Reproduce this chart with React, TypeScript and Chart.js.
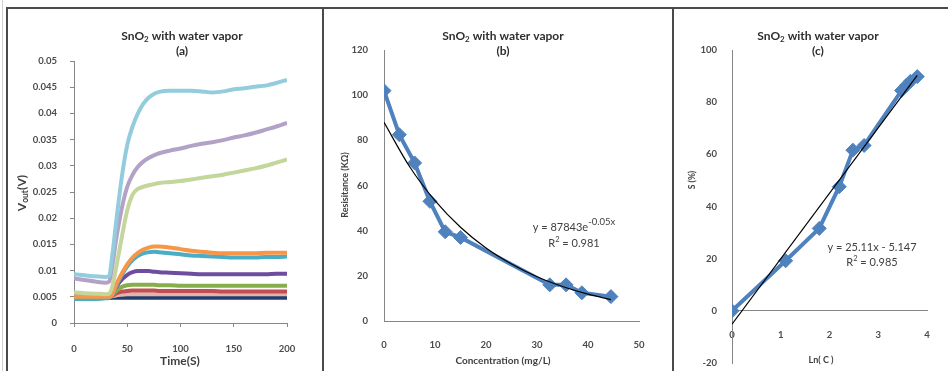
import React, { useEffect, useRef } from 'react';
import { Chart, registerables } from 'chart.js';
Chart.register(...registerables);

const FONT = 'Lato, "Open Sans", "DejaVu Sans", sans-serif';
const TICK_COLOR = '#4a4a4a';
const AXIS_COLOR = '#868686';
const TEXT_COLOR = '#404040';
const BLUE = '#4F81BD';

// ---------- Panel (a): Vout vs time ----------
const timeS = [0, 10, 20, 30, 33, 36, 40, 45, 50, 55, 60, 65, 70, 75, 80, 90, 100, 110, 120, 130, 140, 150, 160, 170, 180, 190, 200];
const vLightBlue = [0.0093, 0.0091, 0.0089, 0.0088, 0.009, 0.013, 0.02, 0.028, 0.034, 0.0375, 0.04, 0.0418, 0.043, 0.0437, 0.0441, 0.0443, 0.0443, 0.0443, 0.0442, 0.044, 0.0442, 0.0446, 0.0448, 0.0451, 0.0453, 0.0458, 0.0464];
const vLightPurple = [0.0085, 0.0082, 0.0079, 0.0077, 0.0079, 0.011, 0.0165, 0.022, 0.026, 0.0283, 0.0298, 0.0308, 0.0315, 0.032, 0.0324, 0.0329, 0.0333, 0.0338, 0.0342, 0.0345, 0.0349, 0.0354, 0.0358, 0.0363, 0.0369, 0.0375, 0.0382];
const vLightGreen = [0.0058, 0.0057, 0.0056, 0.0055, 0.0056, 0.007, 0.011, 0.0165, 0.0215, 0.0245, 0.0256, 0.026, 0.0263, 0.0265, 0.0267, 0.0269, 0.0271, 0.0274, 0.0277, 0.028, 0.0283, 0.0287, 0.0291, 0.0295, 0.03, 0.0306, 0.0312];
const vOrange = [0.005, 0.005, 0.005, 0.005, 0.005, 0.0055, 0.0075, 0.0095, 0.0112, 0.0125, 0.0134, 0.014, 0.0144, 0.0146, 0.0146, 0.0144, 0.0141, 0.0138, 0.0136, 0.0134, 0.0133, 0.0133, 0.0133, 0.0133, 0.0134, 0.0134, 0.0134];
const vTeal = [0.0046, 0.0046, 0.0046, 0.0047, 0.0048, 0.0053, 0.0072, 0.0092, 0.0108, 0.012, 0.0128, 0.0133, 0.0135, 0.0136, 0.0135, 0.0133, 0.0131, 0.0129, 0.0128, 0.0127, 0.0126, 0.0125, 0.0125, 0.0125, 0.0126, 0.0126, 0.0127];
const vPurple = [0.005, 0.005, 0.005, 0.005, 0.005, 0.0055, 0.007, 0.0083, 0.0092, 0.0097, 0.0099, 0.0099, 0.0099, 0.0098, 0.0097, 0.0096, 0.0095, 0.0094, 0.0093, 0.0093, 0.0093, 0.0093, 0.0093, 0.0093, 0.0093, 0.0094, 0.0094];
const vGreen = [0.005, 0.005, 0.005, 0.005, 0.005, 0.0054, 0.0062, 0.0069, 0.0072, 0.0073, 0.0073, 0.0073, 0.0073, 0.0073, 0.0072, 0.0072, 0.0071, 0.0071, 0.0071, 0.0071, 0.0071, 0.0071, 0.0071, 0.0071, 0.0071, 0.0071, 0.0071];
const vPink = [0.005, 0.005, 0.005, 0.005, 0.005, 0.0051, 0.0053, 0.0054, 0.0055, 0.0055, 0.0055, 0.0055, 0.0055, 0.0055, 0.0055, 0.0055, 0.0055, 0.0055, 0.0055, 0.0055, 0.0055, 0.0055, 0.0055, 0.0055, 0.0055, 0.0055, 0.0055];
const vRed = [0.005, 0.005, 0.005, 0.005, 0.005, 0.0052, 0.0057, 0.006, 0.0061, 0.0062, 0.0062, 0.0062, 0.0062, 0.0062, 0.0061, 0.0061, 0.0061, 0.0061, 0.0061, 0.0061, 0.006, 0.006, 0.006, 0.006, 0.006, 0.006, 0.006];
const vNavy = [0.0048, 0.0048, 0.0048, 0.0048, 0.0048, 0.0048, 0.0048, 0.0048, 0.0048, 0.0048, 0.0048, 0.0048, 0.0048, 0.0048, 0.0048, 0.0048, 0.0048, 0.0048, 0.0048, 0.0048, 0.0048, 0.0048, 0.0048, 0.0048, 0.0048, 0.0048, 0.0048];
const blackT = [0, 10, 20, 30, 36];
const vBlack = [0.0049, 0.0049, 0.0049, 0.0049, 0.0049];

const xTicksA = [0, 50, 100, 150, 200];
const yTicksA = [0, 0.005, 0.01, 0.015, 0.02, 0.025, 0.03, 0.035, 0.04, 0.045, 0.05];
const yTickLabelsA = ['0', '0.005', '0.01', '0.015', '0.02', '0.025', '0.03', '0.035', '0.04', '0.045', '0.05'];

// ---------- Panel (b): Resistance vs concentration ----------
const concB = [0, 3, 6, 9, 12, 15, 32.5, 35.7, 38.8, 44.5];
const resB = [102, 82.5, 70, 53, 39.5, 37, 16, 16, 12.5, 10.8];
const trendXB = [0, 5, 10, 15, 20, 25, 30, 35, 40, 44.5];
const trendYB = [88, 68.4, 53.3, 41.5, 32.3, 25.2, 19.6, 15.3, 11.9, 9.5];
const xTicksB = [0, 10, 20, 30, 40, 50];
const yTicksB = [0, 20, 40, 60, 80, 100, 120];

// ---------- Panel (c): S vs ln(C) ----------
const lnC = [0, 1.1, 1.79, 2.2, 2.48, 2.71, 3.48, 3.58, 3.66, 3.8];
const sC = [0, 19.2, 31.6, 47.6, 61.6, 63.4, 84.5, 86.5, 88, 89.8];
const trendXC = [0, 3.8];
const trendYC = [-5.1, 90.3];
const xTicksC = [0, 1, 2, 3, 4];
const yTicksC = [-20, 0, 20, 40, 60, 80, 100];

// ---------- helpers ----------
type Part = { t: string; size: number; bold?: boolean; dy?: number };
type Label = { parts: Part[]; x: number; y: number; rotate?: boolean; color?: string };

function drawParts(ctx: CanvasRenderingContext2D, parts: Part[], color: string) {
  let total = 0;
  const widths = parts.map((p) => {
    ctx.font = `${p.bold ? 'bold ' : ''}${p.size}px ${FONT}`;
    const w = ctx.measureText(p.t).width;
    total += w;
    return w;
  });
  let cx = -total / 2;
  ctx.fillStyle = color;
  ctx.textBaseline = 'middle';
  ctx.textAlign = 'left';
  parts.forEach((p, i) => {
    ctx.font = `${p.bold ? 'bold ' : ''}${p.size}px ${FONT}`;
    ctx.fillText(p.t, cx, p.dy || 0);
    cx += widths[i];
  });
}

function textPlugin(id: string, labels: Label[]) {
  return {
    id,
    afterDraw(chart: any) {
      const ctx = chart.ctx as CanvasRenderingContext2D;
      labels.forEach((l) => {
        ctx.save();
        ctx.translate(l.x, l.y);
        if (l.rotate) ctx.rotate(-Math.PI / 2);
        drawParts(ctx, l.parts, l.color || TEXT_COLOR);
        ctx.restore();
      });
    },
  };
}

const titleLabels = (cx: number, letter: string): Label[] => [
  {
    x: cx,
    y: 27,
    color: '#2e2e2e',
    parts: [
      { t: 'SnO', size: 12, bold: true },
      { t: '2', size: 8, bold: true, dy: 3 },
      { t: ' with water vapor', size: 12, bold: true },
    ],
  },
  { x: cx, y: 42, color: '#2e2e2e', parts: [{ t: letter, size: 12, bold: true }] },
];

const pts = (xs: number[], ys: number[]) => xs.map((x, i) => ({ x, y: ys[i] }));

const lineA = (xs: number[], ys: number[], color: string) => ({
  data: pts(xs, ys),
  showLine: true,
  borderColor: color,
  backgroundColor: color,
  borderWidth: 4,
  pointRadius: 0,
  cubicInterpolationMode: 'monotone',
});

const tickFont = { family: FONT, size: 9.5, weight: 'bold' as const };

function axis(opts: {
  min: number;
  max: number;
  ticks: number[];
  labels?: string[];
  size: number;
  horizontal: boolean;
  padding: number;
  tickLen: number;
  position?: any;
}) {
  return {
    type: 'linear',
    min: opts.min,
    max: opts.max,
    position: opts.position,
    afterBuildTicks: (s: any) => {
      s.ticks = opts.ticks.map((v) => ({ value: v }));
    },
    afterFit: (s: any) => {
      if (opts.horizontal) {
        s.height = opts.size;
      } else {
        s.width = opts.size;
        s.paddingTop = 6;
        s.paddingBottom = 4;
      }
    },
    ticks: {
      font: tickFont,
      color: TICK_COLOR,
      padding: opts.padding,
      autoSkip: false,
      maxRotation: 0,
      callback: (v: any, i: number) => (opts.labels ? opts.labels[i] : String(v)),
    },
    grid: {
      display: opts.tickLen > 0,
      drawOnChartArea: false,
      drawTicks: opts.tickLen > 0,
      tickLength: opts.tickLen,
      color: AXIS_COLOR,
    },
    border: { display: true, color: AXIS_COLOR, width: 1 },
  };
}

const baseOptions = (padding: any, scales: any) => ({
  animation: false,
  responsive: false,
  maintainAspectRatio: false,
  layout: { padding },
  plugins: { legend: { display: false }, tooltip: { enabled: false }, title: { display: false } },
  scales,
});

const cfgA = () => ({
  type: 'scatter',
  data: {
    datasets: [
      lineA(timeS, vLightBlue, '#93CDDD'),
      lineA(timeS, vLightPurple, '#B3A2C7'),
      lineA(timeS, vLightGreen, '#C3D69B'),
      lineA(timeS, vOrange, '#F79646'),
      lineA(timeS, vTeal, '#4BACC6'),
      lineA(timeS, vPurple, '#6E4C9E'),
      lineA(timeS, vGreen, '#86AE4C'),
      lineA(timeS, vRed, '#C0504D'),
      lineA(timeS, vPink, '#E6B0AE'),
      lineA(blackT, vBlack, '#000000'),
      lineA(timeS, vNavy, '#1F3F70'),
    ],
  },
  options: baseOptions(
    { left: 0, right: 35, top: 52, bottom: 0 },
    {
      x: axis({ min: 0, max: 200, ticks: xTicksA, size: 48, horizontal: true, padding: 16, tickLen: 4 }),
      y: axis({ min: 0, max: 0.05, ticks: yTicksA, labels: yTickLabelsA, size: 66, horizontal: false, padding: 13, tickLen: 4 }),
    }
  ),
  plugins: [
    textPlugin('textA', [
      ...titleLabels(174, '(a)'),
      { x: 172, y: 352, parts: [{ t: 'Time(S)', size: 12, bold: true }] },
      {
        x: 14,
        y: 184,
        rotate: true,
        parts: [
          { t: 'V', size: 12, bold: true },
          { t: 'out', size: 8.5, bold: true, dy: 3 },
          { t: '(V)', size: 12, bold: true },
        ],
      },
    ]),
  ],
});

const blueSeries = (xs: number[], ys: number[]) => ({
  data: pts(xs, ys),
  showLine: true,
  borderColor: BLUE,
  backgroundColor: BLUE,
  borderWidth: 4,
  pointStyle: 'rectRot',
  pointRadius: 7,
  pointBackgroundColor: BLUE,
  pointBorderColor: BLUE,
  pointBorderWidth: 1,
});

const trendSeries = (xs: number[], ys: number[]) => ({
  data: pts(xs, ys),
  showLine: true,
  borderColor: '#000000',
  borderWidth: 1.2,
  pointRadius: 0,
  cubicInterpolationMode: 'monotone',
});

const cfgB = () => ({
  type: 'scatter',
  data: { datasets: [trendSeries(trendXB, trendYB), blueSeries(concB, resB)] },
  options: baseOptions(
    { left: 0, right: 33, top: 41, bottom: 0 },
    {
      x: axis({ min: 0, max: 50, ticks: xTicksB, size: 50, horizontal: true, padding: 18, tickLen: 0 }),
      y: axis({ min: 0, max: 120, ticks: yTicksB, size: 60, horizontal: false, padding: 16, tickLen: 0 }),
    }
  ),
  plugins: [
    textPlugin('textB', [
      ...titleLabels(179, '(b)'),
      { x: 179, y: 352, parts: [{ t: 'Concentration (mg/L)', size: 10, bold: true }] },
      { x: 21, y: 176, rotate: true, parts: [{ t: 'Resisitance (KΩ)', size: 9, bold: true }] },
      {
        x: 250,
        y: 218,
        parts: [
          { t: 'y = 87843e', size: 11 },
          { t: '-0.05x', size: 9.5, dy: -5 },
        ],
      },
      {
        x: 250,
        y: 234,
        parts: [
          { t: 'R', size: 11 },
          { t: '2', size: 7.5, dy: -3 },
          { t: ' = 0.981', size: 11 },
        ],
      },
    ]),
  ],
});

const cfgC = () => ({
  type: 'scatter',
  data: { datasets: [trendSeries(trendXC, trendYC), blueSeries(lnC, sC)] },
  options: baseOptions(
    { left: 0, right: 21, top: 41, bottom: 4 },
    {
      x: axis({ min: 0, max: 4, ticks: xTicksC, size: 0, horizontal: true, padding: 18, tickLen: 0, position: { y: 0 } }),
      y: axis({ min: -20, max: 100, ticks: yTicksC, size: 58, horizontal: false, padding: 15, tickLen: 0, position: 'left' }),
    }
  ),
  plugins: [
    textPlugin('textC', [
      ...titleLabels(144, '(c)'),
      { x: 147, y: 351, parts: [{ t: 'Ln( C )', size: 9, bold: true }] },
      { x: 18, y: 171, rotate: true, parts: [{ t: 'S (%)', size: 8.5, bold: true }] },
      { x: 198, y: 238, parts: [{ t: 'y = 25.11x - 5.147', size: 11 }] },
      {
        x: 198,
        y: 253,
        parts: [
          { t: 'R', size: 11 },
          { t: '2', size: 7.5, dy: -3 },
          { t: ' = 0.985', size: 11 },
        ],
      },
    ]),
  ],
});

function ChartBox(props: { make: () => any; left: number; top: number; width: number; height: number }) {
  const ref = useRef<HTMLCanvasElement | null>(null);
  useEffect(() => {
    if (!ref.current) return;
    const chart = new Chart(ref.current, props.make());
    return () => chart.destroy();
  }, []);
  return (
    <canvas
      ref={ref}
      width={props.width}
      height={props.height}
      style={{ position: 'absolute', left: props.left, top: props.top, width: props.width, height: props.height }}
    />
  );
}

const line = (s: React.CSSProperties): React.CSSProperties => ({ position: 'absolute', background: '#4a4a4a', ...s });

export default function App() {
  return (
    <div style={{ position: 'absolute', left: 0, top: 0, width: 948, height: 371, background: '#ffffff', overflow: 'hidden' }}>
      <div style={{ position: 'absolute', left: 2, top: 0, width: 1, height: 371, background: '#d0d0d0' }} />
      <div style={line({ left: 6, top: 7, width: 942, height: 2 })} />
      <div style={line({ left: 6, top: 7, width: 2, height: 364 })} />
      <div style={line({ left: 322, top: 7, width: 2, height: 364 })} />
      <div style={line({ left: 672, top: 7, width: 2, height: 364 })} />
      <ChartBox make={cfgA} left={8} top={9} width={314} height={362} />
      <ChartBox make={cfgB} left={324} top={9} width={348} height={362} />
      <ChartBox make={cfgC} left={674} top={9} width={274} height={362} />
    </div>
  );
}
